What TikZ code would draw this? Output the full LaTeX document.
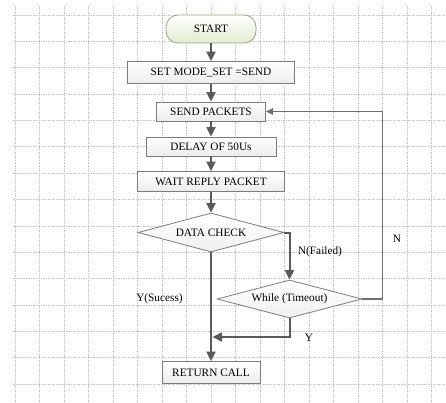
\documentclass[tikz,border=0pt]{standalone}
\usepackage{fontspec}
\setmainfont{Liberation Serif}
\usetikzlibrary{shapes.geometric,arrows.meta}
\definecolor{linegray}{HTML}{5A5A5A}
\definecolor{loopgray}{HTML}{6E6E6E}
\definecolor{boxgray}{HTML}{7C7C7C}
\definecolor{gridgray}{HTML}{C6C6C6}
\definecolor{startfill}{HTML}{E2ECD2}
\definecolor{startline}{HTML}{94A484}
\begin{document}
\begin{tikzpicture}[x=1pt,y=-1pt,
  every node/.style={font=\fontsize{11.3}{13}\selectfont},
  gridline/.style={draw=gridgray, line width=0.6pt, dash pattern=on 1.5pt off 1pt},
  procbox/.style={draw=boxgray, line width=0.8pt, top color=white, bottom color=gray!15, minimum height=20pt, inner sep=0pt},
  startbox/.style={draw=startline, line width=0.8pt, top color=white, bottom color=startfill, rounded corners=12pt, minimum width=90pt, minimum height=28pt, inner sep=0pt},
  decision/.style={diamond, aspect=3.7, draw=boxgray, line width=0.8pt, top color=white, bottom color=gray!12, inner sep=0pt},
  flow/.style={draw=linegray, line width=2pt, -{Triangle[width=9pt,length=9.5pt]}},
  backflow/.style={draw=loopgray, line width=1.2pt, -{Triangle[width=6.5pt,length=7pt]}}]
  \useasboundingbox (0,0) rectangle (446,403);
  \fill[white] (0,0) rectangle (446,403);
  % background grid
  \foreach \i in {0,...,17} \draw[gridline] (15+24.5*\i,5) -- (15+24.5*\i,403);
  \foreach \j in {0,...,14} \draw[gridline] (13,15+26.36*\j) -- (446,15+26.36*\j);
  % steps
  \node[startbox] (start) at (211,29) {START};
  \node[procbox, minimum width=167pt, minimum height=22pt] (mode) at (211,72.5) {SET MODE\_SET =SEND};
  \node[procbox, minimum width=109pt, minimum height=19pt] (send) at (211,111.5) {SEND PACKETS};
  \node[procbox, minimum width=130pt, minimum height=19pt] (delay) at (211,146.5) {DELAY OF 50Us};
  \node[procbox, minimum width=147pt] (wait) at (211,181.5) {WAIT REPLY PACKET};
  \node[decision, minimum width=146pt, minimum height=39pt] (check) at (211,232.5) {DATA CHECK};
  \node[decision, minimum width=145pt, minimum height=38pt] (timeout) at (289.5,299) {While (Timeout)};
  \node[procbox, minimum width=98pt, minimum height=22pt] (ret) at (211,372.5) {RETURN CALL};
  \coordinate (merge) at (212.5,337);
  \coordinate (loopcorner) at (382.5,299);
  % connectors
  \draw[flow] (start) -- (mode);
  \draw[flow] (mode) -- (send);
  \draw[flow] (send) -- (delay);
  \draw[flow] (delay) -- (wait);
  \draw[flow] (wait) -- (check);
  \draw[flow] (check) -- (ret);
  \draw[flow] (check.east) -| (timeout.north);
  \draw[flow] (timeout.south) |- (merge);
  \draw[backflow] (timeout.east) -- (loopcorner) |- (send.east);
  % labels
  \node (failed) at (320,252) {N(Failed)};
  \node (success) at (159.5,298.5) {Y(Sucess)};
  \node (no) at (397,238.5) {N};
  \node (yes) at (309,338) {Y};
\end{tikzpicture}
\end{document}
